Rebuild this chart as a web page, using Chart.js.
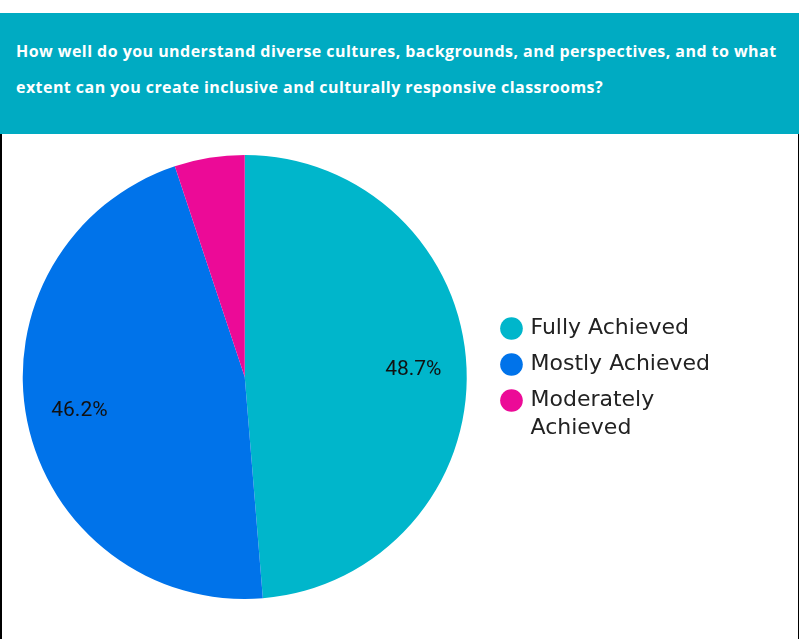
<!DOCTYPE html>
<html>
<head>
<meta charset="utf-8">
<script src="https://cdn.jsdelivr.net/npm/chart.js@4"></script>
<style>
  html, body { margin: 0; padding: 0; background: #fff; }
  body { width: 799px; height: 639px; position: relative; overflow: hidden; }
  #header {
    position: absolute; left: 0; top: 13px; width: 799px; height: 121px;
    background: #00abc2; color: #fff;
    font-family: "Open Sans", sans-serif; font-weight: 700; font-size: 16px;
    letter-spacing: 0.45px;
    line-height: 36px; box-sizing: border-box; padding: 20px 0 0 16px;
    white-space: nowrap;
  }
  #frame {
    position: absolute; left: 0; top: 134px; width: 799px; height: 505px;
    box-sizing: border-box; border-left: 2px solid #000; border-right: 1px solid #000;
    pointer-events: none;
  }
  #wrap { position: absolute; left: 0; top: 134px; width: 799px; height: 505px; }
</style>
</head>
<body>
<div id="header">How well do you understand diverse cultures, backgrounds, and perspectives, and to what<br>extent can you create inclusive and culturally responsive classrooms?</div>
<div id="wrap"><canvas id="pie"></canvas></div>
<div id="frame"></div>
<script>
const categories = ["Fully Achieved", "Mostly Achieved", ["Moderately", "Achieved"]];
const shares = [48.7, 46.2, 5.1];
const colors = ["#00b6cb", "#0073ea", "#ec0a97"];

// percent labels inside the big slices
const sliceLabels = {
  id: "sliceLabels",
  afterDatasetsDraw(chart) {
    const ctx = chart.ctx;
    const meta = chart.getDatasetMeta(0);
    ctx.save();
    ctx.font = "21px Roboto, sans-serif";
    ctx.fillStyle = "#111";
    ctx.textAlign = "center";
    ctx.textBaseline = "middle";
    meta.data.forEach(function (arc, i) {
      if (shares[i] < 10) return;
      const mid = (arc.startAngle + arc.endAngle) / 2;
      const r = arc.outerRadius * 0.76;
      ctx.fillText(shares[i].toFixed(1) + "%", arc.x + Math.cos(mid) * r, arc.y + Math.sin(mid) * r);
    });
    ctx.restore();
  }
};

new Chart(document.getElementById("pie").getContext("2d"), {
  type: "pie",
  data: {
    labels: categories,
    datasets: [{
      data: shares,
      backgroundColor: colors,
      borderWidth: 0
    }]
  },
  options: {
    responsive: true,
    maintainAspectRatio: false,
    animation: false,
    layout: { padding: { left: -6, right: 79, top: 21, bottom: 40 } },
    plugins: {
      tooltip: { enabled: false },
      legend: {
        position: "right",
        // empty title only nudges the items down a little
        title: { display: true, text: " ", font: { size: 1 }, padding: 4 },
        labels: {
          usePointStyle: true,
          pointStyle: "circle",
          boxWidth: 16,
          boxHeight: 16,
          padding: 14,
          color: "#222",
          font: { family: "'DejaVu Sans', sans-serif", size: 22, lineHeight: 1.28 }
        }
      }
    }
  },
  plugins: [sliceLabels]
});
</script>
</body>
</html>
